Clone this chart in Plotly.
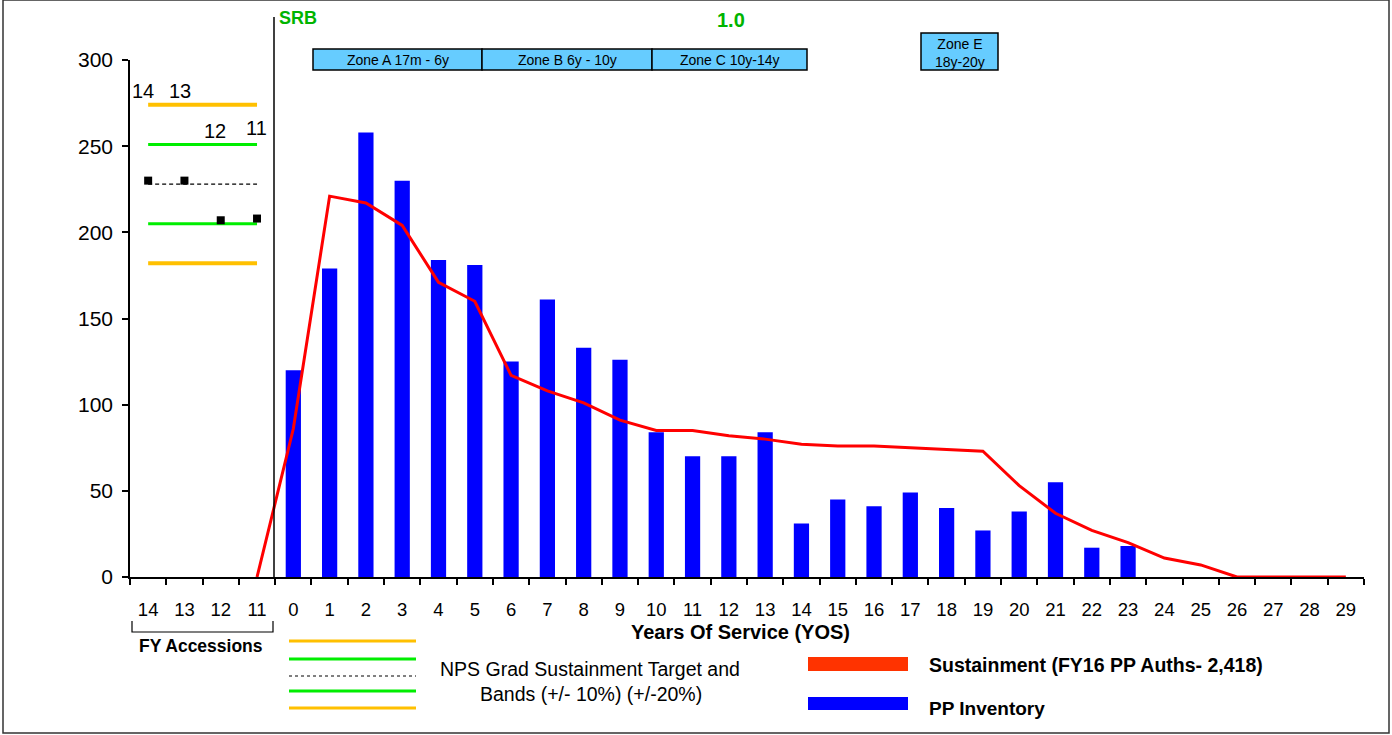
import plotly.graph_objects as go

# categories
fy_labels = ["14", "13", "12", "11"]
yos_labels = [str(i) for i in range(30)]

# PP inventory by YOS (0..23)
pp_inventory = [120, 179, 258, 230, 184, 181, 125, 161, 133, 126, 84, 70, 70, 84,
                31, 45, 41, 49, 40, 27, 38, 55, 17, 18]

# sustainment curve, starts at FY 11 then YOS 0..29
sustain_labels = ["11"] + yos_labels
sustainment = [0, 86, 221, 217, 204, 171, 160, 117, 108, 101, 91, 85, 85, 82, 80,
               77, 76, 76, 75, 74, 73, 53, 37, 27, 20, 11, 7, 0, 0, 0, 0]

# NPS grad target and bands, plus accessions per FY
band_target = 228
band_levels = [274, 251, 205, 182]
fy_accessions = [230, 230, 207, 208]

all_labels = fy_labels + yos_labels
n_fy = len(fy_labels)
x_fy = list(range(n_fy))
x_yos = [n_fy + i for i in range(len(yos_labels))]
x_bars = x_yos[:len(pp_inventory)]
x_sustain = [n_fy - 1] + x_yos

FONT = "Arial, Liberation Sans, sans-serif"
ORANGE = "#FFC000"
GREEN = "#00EE00"

# plot area in pixels
L, R, T, B = 130, 1364, 60, 577


def px(x):
    return (x - L) / (R - L)


def py(y):
    return (B - y) / (B - T)


fig = go.Figure()

fig.add_trace(go.Bar(
    x=x_bars, y=pp_inventory,
    marker=dict(color="#0000FF", line=dict(width=0)),
    width=0.42, hoverinfo="y"
))

fig.add_trace(go.Scatter(
    x=x_sustain, y=sustainment, mode="lines",
    line=dict(color="#FF0000", width=3), hoverinfo="y"
))

# target bands over the FY accession columns
band_colors = [ORANGE, GREEN, GREEN, ORANGE]
band_widths = [4, 3, 3, 4]
for lvl, col, w in zip(band_levels, band_colors, band_widths):
    fig.add_trace(go.Scatter(
        x=[x_fy[0], x_fy[-1]], y=[lvl, lvl], mode="lines",
        line=dict(color=col, width=w), hoverinfo="skip"
    ))
fig.add_trace(go.Scatter(
    x=[x_fy[0], x_fy[-1]], y=[band_target, band_target], mode="lines",
    line=dict(color="black", width=1.3, dash="4px,3px"), hoverinfo="skip"
))
fig.add_trace(go.Scatter(
    x=x_fy, y=fy_accessions, mode="markers",
    marker=dict(color="black", symbol="square", size=8), hoverinfo="y"
))

shapes = []
annos = []

# SRB divider
shapes.append(dict(type="line", xref="paper", yref="paper",
                   x0=px(274), x1=px(274), y0=py(577), y1=py(17),
                   line=dict(color="black", width=1.5)))
annos.append(dict(text="<b>SRB</b>", x=px(277), y=py(18), xanchor="left",
                  font=dict(size=18, color="#00B400")))
annos.append(dict(text="<b>1.0</b>", x=px(731), y=py(20),
                  font=dict(size=20, color="#00B400")))

# zone boxes
zones = [("Zone A 17m - 6y", 313, 482, 49), ("Zone B 6y - 10y", 482, 652, 49),
         ("Zone C 10y-14y", 652, 807, 49), ("Zone E<br>18y-20y", 921, 998, 33)]
for txt, x0, x1, y0 in zones:
    shapes.append(dict(type="rect", xref="paper", yref="paper",
                       x0=px(x0), x1=px(x1), y0=py(70), y1=py(y0),
                       fillcolor="#66CCFF", line=dict(color="black", width=1.5)))
    annos.append(dict(text=txt, x=px((x0 + x1) / 2), y=py((y0 + 70) / 2 + 1),
                      font=dict(size=14, color="black")))

# FY labels above the bands
for txt, x, y in [("14", 143, 91), ("13", 180, 91), ("12", 215, 131), ("11", 256, 128)]:
    annos.append(dict(text=txt, x=px(x), y=py(y), font=dict(size=20, color="black")))

# x axis title and FY bracket
annos.append(dict(text="<b>Years Of Service (YOS)</b>", x=px(740), y=py(632),
                  font=dict(size=20, color="black")))
shapes.append(dict(type="path", xref="paper", yref="paper",
                   path="M {} {} L {} {} L {} {} L {} {}".format(
                       px(132), py(621), px(132), py(632),
                       px(273), py(632), px(273), py(621)),
                   line=dict(color="black", width=1.2)))
annos.append(dict(text="<b>FY Accessions</b>", x=px(201), y=py(646),
                  font=dict(size=17.5, color="black")))

# band legend
for y, col, w, d in [(641, ORANGE, 3, "solid"), (659, GREEN, 3, "solid"),
                     (676, "black", 1, "dot"), (691, GREEN, 3, "solid"),
                     (708, ORANGE, 3, "solid")]:
    shapes.append(dict(type="line", xref="paper", yref="paper",
                       x0=px(289), x1=px(416), y0=py(y), y1=py(y),
                       line=dict(color=col, width=w, dash=d)))
annos.append(dict(text="NPS Grad Sustainment Target and", x=px(590), y=py(669),
                  font=dict(size=19.5, color="black")))
annos.append(dict(text="Bands (+/- 10%) (+/-20%)", x=px(591), y=py(694),
                  font=dict(size=19.5, color="black")))

# series legend
shapes.append(dict(type="rect", xref="paper", yref="paper",
                   x0=px(808), x1=px(908), y0=py(671), y1=py(657),
                   fillcolor="#FF3300", line=dict(width=0)))
shapes.append(dict(type="rect", xref="paper", yref="paper",
                   x0=px(808), x1=px(908), y0=py(710), y1=py(697),
                   fillcolor="#0000FF", line=dict(width=0)))
annos.append(dict(text="<b>Sustainment (FY16 PP Auths- 2,418)</b>", x=px(927), y=py(665),
                  xanchor="left", font=dict(size=19.5, color="black")))
annos.append(dict(text="<b>PP Inventory</b>", x=px(927), y=py(708),
                  xanchor="left", font=dict(size=19, color="black")))

# outer frame
shapes.append(dict(type="rect", xref="paper", yref="paper",
                   x0=px(3), x1=px(1389), y0=py(733), y1=py(0),
                   line=dict(color="#333333", width=1.5)))

for a in annos:
    a.setdefault("xref", "paper")
    a.setdefault("yref", "paper")
    a.setdefault("xanchor", "center")
    a.setdefault("yanchor", "middle")
    a.setdefault("showarrow", False)

fig.update_layout(
    width=1392, height=735, autosize=False,
    margin=dict(l=L, r=1392 - R, t=T, b=735 - B, pad=0),
    plot_bgcolor="white", paper_bgcolor="white",
    showlegend=False,
    font=dict(family=FONT, color="black"),
    shapes=shapes, annotations=annos,
    xaxis=dict(
        range=[-0.5, len(all_labels) - 0.5],
        tickmode="array", tickvals=list(range(len(all_labels))), ticktext=all_labels,
        ticks="", showgrid=False, zeroline=False,
        showline=True, linecolor="black", linewidth=1.5,
        tickfont=dict(size=18.5, family=FONT),
        ticklabelstandoff=15,
        minor=dict(tickmode="array",
                   tickvals=[i - 0.5 for i in range(len(all_labels) + 1)],
                   ticks="outside", ticklen=6, tickcolor="black", tickwidth=1.5),
    ),
    yaxis=dict(
        range=[0, 300], tickmode="array", tickvals=[0, 50, 100, 150, 200, 250, 300],
        ticks="outside", ticklen=6, tickcolor="black", tickwidth=1.5,
        showgrid=False, zeroline=False,
        showline=True, linecolor="black", linewidth=1.5,
        tickfont=dict(size=21, family=FONT),
        ticklabelstandoff=5,
    ),
)

fig.write_html("out.html", config={"displayModeBar": False},
               post_script="document.body.style.margin='0';")
